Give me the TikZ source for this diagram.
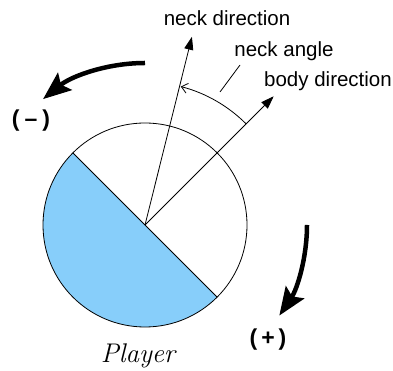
\documentclass[tikz,border=0pt]{standalone}
\usepackage{fontspec}
\newfontfamily\labelfont{Liberation Sans}
\usetikzlibrary{arrows.meta,calc}
\definecolor{halfblue}{RGB}{135,206,250}
\begin{document}
\begin{tikzpicture}[x=1pt,y=1pt,
  thin line/.style={line width=0.8pt},
  dirarrow/.style={thin line,-{Triangle[length=13pt,width=9pt]}},
  turnarrow/.style={line width=4.5pt,-{Stealth[length=28pt,width=22pt,inset=5pt]}},
  label/.style={font=\labelfont\fontsize{20.5}{24}\selectfont,anchor=base,inner sep=0pt},
  sign/.style={font=\labelfont\bfseries\fontsize{23}{27}\selectfont,inner sep=0pt}]
  \useasboundingbox (0,0) rectangle (393,371);
  % player body
  \coordinate (C) at (145,146);
  \coordinate (split1) at ($(C)+(135:102)$);
  \coordinate (split2) at ($(C)+(315:102)$);
  \fill[halfblue] (split1) arc[start angle=135,end angle=315,radius=102] -- cycle;
  \draw[thin line] (C) circle[radius=102];
  \draw[thin line] (split1) -- (split2);
  % directions
  \coordinate (neck) at ($(C)+(76:194)$);
  \coordinate (body) at ($(C)+(45:182)$);
  \draw[dirarrow] (C) -- (neck);
  \draw[dirarrow] (C) -- (body);
  % neck angle
  \coordinate (arcstart) at ($(C)+(45:143)$);
  \draw[thin line,-{Straight Barb[length=6pt,width=10pt]}] (arcstart) arc[start angle=45,end angle=75.5,radius=143];
  \coordinate (lead1) at (220,279);
  \coordinate (lead2) at (240,306);
  \draw[thin line] (lead1) -- (lead2);
  \node[label] (neckdir) at (227,345) {neck direction};
  \node[label] (neckang) at (284,314) {neck angle};
  \node[label] (bodydir) at (328,284) {body direction};
  % turning directions
  \coordinate (minusstart) at ($(C)+(90:162)$);
  \draw[turnarrow] (minusstart) arc[start angle=90,end angle=129,radius=162];
  \coordinate (plusstart) at ($(C)+(0:162)$);
  \draw[turnarrow] (plusstart) arc[start angle=0,end angle=-34,radius=162];
  \node[sign] (minus) at (31,250) {(\hspace{5pt}–\hspace{5pt})};
  \node[sign] (plus) at (268,31) {(\hspace{4pt}+\hspace{4pt})};
  \node[font=\itshape\fontsize{27}{32}\selectfont,anchor=base,inner sep=0pt] (player) at (138,8) {Player};
\end{tikzpicture}
\end{document}
